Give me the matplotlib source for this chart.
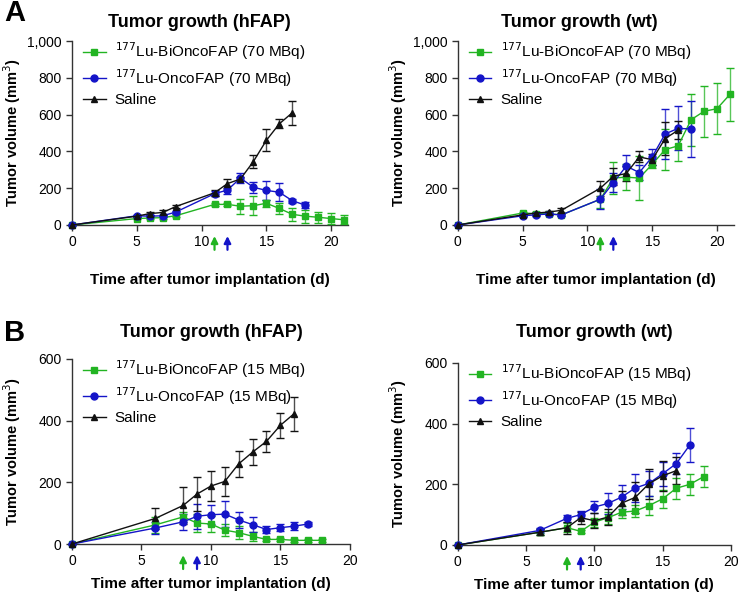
import matplotlib.pyplot as plt
from matplotlib.lines import Line2D
from matplotlib.ticker import FuncFormatter

plt.rcParams["font.family"] = ["Liberation Sans", "DejaVu Sans"]

GREEN = "#22b422"
BLUE = "#1414c8"
BLACK = "#111111"

# Panel A, hFAP, 70 MBq
a_hfap_bi_days = [0, 5, 6, 7, 8, 11, 12, 13, 14, 15, 16, 17, 18, 19, 20, 21]
a_hfap_bi = [0, 35, 38, 40, 50, 112, 112, 102, 105, 118, 90, 58, 48, 42, 35, 28]
a_hfap_bi_err = [0, 5, 5, 8, 8, 10, 10, 40, 50, 20, 30, 35, 35, 30, 30, 25]
a_hfap_onco_days = [0, 5, 6, 7, 8, 11, 12, 13, 14, 15, 16, 17, 18]
a_hfap_onco = [0, 50, 48, 50, 70, 170, 190, 255, 205, 188, 178, 132, 108]
a_hfap_onco_err = [0, 5, 5, 5, 8, 15, 20, 25, 30, 50, 50, 10, 15]
a_hfap_sal_days = [0, 5, 6, 7, 8, 11, 12, 13, 14, 15, 16, 17]
a_hfap_sal = [0, 48, 62, 68, 100, 175, 225, 250, 345, 460, 550, 610]
a_hfap_sal_err = [0, 5, 8, 15, 8, 15, 25, 10, 35, 60, 25, 65]

# Panel A, wt, 70 MBq
a_wt_bi_days = [0, 5, 6, 7, 8, 11, 12, 13, 14, 15, 16, 17, 18, 19, 20, 21]
a_wt_bi = [0, 65, 62, 60, 55, 140, 255, 260, 255, 330, 410, 430, 572, 618, 632, 710]
a_wt_bi_err = [0, 8, 8, 8, 8, 50, 85, 70, 120, 20, 110, 80, 140, 140, 140, 145]
a_wt_onco_days = [0, 5, 6, 7, 8, 11, 12, 13, 14, 15, 16, 17, 18]
a_wt_onco = [0, 50, 55, 60, 55, 140, 230, 320, 285, 370, 495, 525, 522]
a_wt_onco_err = [0, 5, 5, 5, 5, 55, 50, 60, 40, 45, 135, 120, 150]
a_wt_sal_days = [0, 5, 6, 7, 8, 11, 12, 13, 14, 15, 16, 17]
a_wt_sal = [0, 55, 65, 70, 80, 200, 265, 280, 370, 355, 470, 515]
a_wt_sal_err = [0, 5, 5, 8, 15, 40, 45, 40, 30, 30, 90, 50]

# Panel B, hFAP, 15 MBq
b_hfap_bi_days = [0, 6, 8, 9, 10, 11, 12, 13, 14, 15, 16, 17, 18]
b_hfap_bi = [0, 62, 88, 68, 65, 45, 37, 25, 15, 15, 12, 12, 12]
b_hfap_bi_err = [0, 25, 15, 28, 25, 20, 20, 15, 5, 5, 5, 5, 5]
b_hfap_onco_days = [0, 6, 8, 9, 10, 11, 12, 13, 14, 15, 16, 17]
b_hfap_onco = [0, 52, 72, 90, 95, 97, 78, 63, 47, 53, 58, 65]
b_hfap_onco_err = [0, 18, 25, 40, 30, 42, 25, 25, 10, 12, 12, 5]
b_hfap_sal_days = [0, 6, 8, 9, 10, 11, 12, 13, 14, 15, 16]
b_hfap_sal = [0, 83, 125, 162, 188, 203, 260, 298, 333, 385, 423]
b_hfap_sal_err = [0, 35, 60, 55, 48, 48, 42, 42, 35, 40, 55]

# Panel B, wt, 15 MBq
b_wt_bi_days = [0, 6, 8, 9, 10, 11, 12, 13, 14, 15, 16, 17, 18]
b_wt_bi = [0, 42, 57, 45, 75, 90, 108, 112, 130, 152, 187, 200, 225]
b_wt_bi_err = [0, 10, 15, 5, 15, 20, 20, 20, 30, 30, 35, 35, 35]
b_wt_onco_days = [0, 6, 8, 9, 10, 11, 12, 13, 14, 15, 16, 17]
b_wt_onco = [0, 48, 88, 100, 125, 137, 158, 188, 203, 235, 268, 330]
b_wt_onco_err = [0, 8, 12, 12, 20, 35, 40, 45, 40, 40, 35, 55]
b_wt_sal_days = [0, 6, 8, 9, 10, 11, 12, 13, 14, 15, 16]
b_wt_sal = [0, 42, 57, 90, 80, 92, 138, 157, 202, 228, 245]
b_wt_sal_err = [0, 10, 20, 20, 25, 25, 40, 50, 50, 50, 45]

# treatment days (green = BiOncoFAP, blue = OncoFAP)
a_dose_days = [11, 12]
b_dose_days = [8, 9]


def draw_panel(ax, series, dose, title, xmax, ymax, yticks,
               title_x, title_pad, xlabel_pad):
    handles = []
    for days, vals, err, color, marker, ms, label in series:
        ax.errorbar(days, vals, yerr=err, color=color, ecolor=color,
                    marker=marker, markersize=ms, lw=1.0, elinewidth=1.0,
                    capsize=3, capthick=1.0, clip_on=False, zorder=3)
        handles.append(Line2D([], [], color=color, marker=marker,
                              markersize=ms, lw=1.0, label=label))
    # lighter error bars, like the original
    for coll in ax.collections:
        coll.set_alpha(0.75)
    ax.set_xlim(0, xmax)
    ax.set_ylim(0, ymax)
    ax.set_xticks([0, 5, 10, 15, 20])
    ax.set_yticks(yticks)
    ax.yaxis.set_major_formatter(FuncFormatter(lambda v, p: f"{int(v):,}"))
    for side in ["top", "right"]:
        ax.spines[side].set_visible(False)
    for side in ["left", "bottom"]:
        ax.spines[side].set_linewidth(1.0)
        ax.spines[side].set_color("#333333")
    ax.tick_params(direction="out", length=4, width=1.0, labelsize=10,
                   colors="#333333", labelcolor="black")
    ax.set_title(title, fontsize=13, fontweight="bold", pad=title_pad,
                 x=title_x)
    ax.set_ylabel("Tumor volume (mm$^3$)", fontsize=10.5, fontweight="bold")
    ax.yaxis.set_label_coords(-0.178, 0.5)
    ax.set_xlabel("Time after tumor implantation (d)", fontsize=11,
                  fontweight="bold", labelpad=xlabel_pad)
    for d, c in zip(dose, [GREEN, BLUE]):
        ax.annotate("", xy=(d, -0.045), xytext=(d, -0.15),
                    xycoords=("data", "axes fraction"),
                    arrowprops=dict(arrowstyle="-|>", color=c, lw=1.6,
                                    mutation_scale=10))
    ax.legend(handles=handles, loc="upper left", bbox_to_anchor=(0.0, 1.06),
              frameon=False, fontsize=11, handlelength=1.5,
              handletextpad=0.6, labelspacing=0.3, borderaxespad=0.3)


fig = plt.figure(figsize=(7.42, 5.96), dpi=100)

ax1 = fig.add_axes([0.097, 0.6225, 0.372, 0.3087])
ax2 = fig.add_axes([0.617, 0.6225, 0.372, 0.3087])
ax3 = fig.add_axes([0.097, 0.0872, 0.3745, 0.3105])
ax4 = fig.add_axes([0.617, 0.0856, 0.368, 0.3054])

lab_bi70 = "$^{177}$Lu-BiOncoFAP (70 MBq)"
lab_on70 = "$^{177}$Lu-OncoFAP (70 MBq)"
lab_bi15 = "$^{177}$Lu-BiOncoFAP (15 MBq)"
lab_on15 = "$^{177}$Lu-OncoFAP (15 MBq)"

draw_panel(ax1, [
    (a_hfap_bi_days, a_hfap_bi, a_hfap_bi_err, GREEN, "s", 5, lab_bi70),
    (a_hfap_onco_days, a_hfap_onco, a_hfap_onco_err, BLUE, "o", 5, lab_on70),
    (a_hfap_sal_days, a_hfap_sal, a_hfap_sal_err, BLACK, "^", 4.5, "Saline"),
], a_dose_days, "Tumor growth (hFAP)", 21.3, 1000, [0, 200, 400, 600, 800, 1000],
    0.46, 10, 17)

draw_panel(ax2, [
    (a_wt_bi_days, a_wt_bi, a_wt_bi_err, GREEN, "s", 5, lab_bi70),
    (a_wt_onco_days, a_wt_onco, a_wt_onco_err, BLUE, "o", 5, lab_on70),
    (a_wt_sal_days, a_wt_sal, a_wt_sal_err, BLACK, "^", 4.5, "Saline"),
], a_dose_days, "Tumor growth (wt)", 21.3, 1000, [0, 200, 400, 600, 800, 1000],
    0.44, 10, 17)

draw_panel(ax3, [
    (b_hfap_bi_days, b_hfap_bi, b_hfap_bi_err, GREEN, "s", 5, lab_bi15),
    (b_hfap_onco_days, b_hfap_onco, b_hfap_onco_err, BLUE, "o", 5, lab_on15),
    (b_hfap_sal_days, b_hfap_sal, b_hfap_sal_err, BLACK, "^", 4.5, "Saline"),
], b_dose_days, "Tumor growth (hFAP)", 20, 600, [0, 200, 400, 600],
    0.5, 16, 6)

draw_panel(ax4, [
    (b_wt_bi_days, b_wt_bi, b_wt_bi_err, GREEN, "s", 5, lab_bi15),
    (b_wt_onco_days, b_wt_onco, b_wt_onco_err, BLUE, "o", 5, lab_on15),
    (b_wt_sal_days, b_wt_sal, b_wt_sal_err, BLACK, "^", 4.5, "Saline"),
], b_dose_days, "Tumor growth (wt)", 20, 600, [0, 200, 400, 600],
    0.5, 19, 6)

fig.text(0.006, 0.978, "A", fontsize=21, fontweight="bold", va="center")
fig.text(0.006, 0.441, "B", fontsize=21, fontweight="bold", va="center")

fig.savefig("out.png", dpi=100)
